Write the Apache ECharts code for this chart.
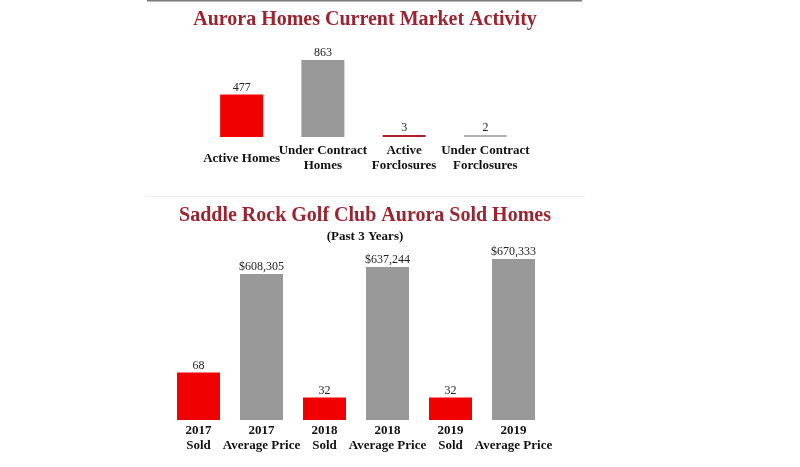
<!DOCTYPE html>
<html>
<head>
<meta charset="utf-8">
<style>
  html, body { margin: 0; padding: 0; background: #fff; }
  #main { width: 800px; height: 467px; }
</style>
</head>
<body>
<div id="main"></div>
<script src="https://cdn.jsdelivr.net/npm/echarts@6/dist/echarts.min.js"></script>
<script>
    // market activity (top)
    var marketCats = ['Active Homes', 'Under Contract\nHomes', 'Active\nForclosures', 'Under Contract\nForclosures'];
    var marketVals = [477, 863, 3, 2];
    var marketColors = ['#f00000', '#999999', '#b3202a', '#b0b0b0'];

    // sold homes (bottom)
    var soldCats = ['2017\nSold', '2017\nAverage Price', '2018\nSold', '2018\nAverage Price', '2019\nSold', '2019\nAverage Price'];
    var soldCounts = [68, '-', 32, '-', 32, '-'];
    var avgPrices = ['-', 608305, '-', 637244, '-', 670333];

    var serif = '"Liberation Serif", "DejaVu Serif", serif';
    var titleRed = '#9b2430';

    function money(v) {
        return '$' + String(v).replace(/\B(?=(\d{3})+(?!\d))/g, ',');
    }

    function catLabel(margin) {
        return {
            interval: 0,
            margin: margin,
            verticalAlign: 'middle',
            color: '#111',
            fontFamily: serif,
            fontWeight: 'bold',
            fontSize: 13,
            lineHeight: 15
        };
    }
    var valLabel = {
        show: true,
        position: 'top',
        distance: 1,
        color: '#222',
        fontFamily: serif,
        fontSize: 12
    };

    var myChart = echarts.init(document.getElementById('main'));
    var option = {
        backgroundColor: '#fff',
        animation: false,
        graphic: [
            { type: 'line', shape: { x1: 147, y1: 0.5, x2: 582, y2: 0.5 }, style: { stroke: '#7a7a7a', lineWidth: 2 } },
            { type: 'line', shape: { x1: 145, y1: 196.5, x2: 585, y2: 196.5 }, style: { stroke: '#eeeeee', lineWidth: 1 } },
            { type: 'text', x: 365, y: 20, style: { text: 'Aurora Homes Current Market Activity', fill: titleRed, font: 'bold 20px ' + serif, textAlign: 'center', textVerticalAlign: 'middle' } },
            { type: 'text', x: 365, y: 216, style: { text: 'Saddle Rock Golf Club Aurora Sold Homes', fill: titleRed, font: 'bold 20px ' + serif, textAlign: 'center', textVerticalAlign: 'middle' } },
            { type: 'text', x: 365, y: 237, style: { text: '(Past 3 Years)', fill: '#111', font: 'bold 13px ' + serif, textAlign: 'center', textVerticalAlign: 'middle' } }
        ],
        grid: [
            { left: 201, top: 60, width: 325, height: 77 },
            { left: 167, top: 259, width: 378, height: 161 }
        ],
        xAxis: [
            { type: 'category', gridIndex: 0, data: marketCats, axisLine: { show: false }, axisTick: { show: false }, axisLabel: catLabel(21.5) },
            { type: 'category', gridIndex: 1, data: soldCats, axisLine: { show: false }, axisTick: { show: false }, axisLabel: catLabel(18.5) }
        ],
        yAxis: [
            { type: 'value', gridIndex: 0, min: 0, max: 863, show: false },
            { type: 'value', gridIndex: 1, min: 0, max: 230, show: false },
            { type: 'value', gridIndex: 1, min: 0, max: 670333, show: false }
        ],
        series: [
            {
                name: 'Market',
                type: 'bar',
                xAxisIndex: 0,
                yAxisIndex: 0,
                barWidth: 43,
                barMinHeight: 2,
                data: marketVals.map(function (v, i) {
                    return { value: v, itemStyle: { color: marketColors[i] } };
                }),
                label: valLabel
            },
            {
                name: 'Sold',
                type: 'bar',
                xAxisIndex: 1,
                yAxisIndex: 1,
                barWidth: 43,
                barGap: '-100%',
                itemStyle: { color: '#f00000' },
                data: soldCounts,
                label: valLabel
            },
            {
                name: 'Average Price',
                type: 'bar',
                xAxisIndex: 1,
                yAxisIndex: 2,
                barWidth: 43,
                barGap: '-100%',
                itemStyle: { color: '#999999' },
                data: avgPrices,
                label: Object.assign({}, valLabel, {
                    formatter: function (p) { return money(p.value); }
                })
            }
        ]
    };
    myChart.setOption(option);
</script>
</body>
</html>
